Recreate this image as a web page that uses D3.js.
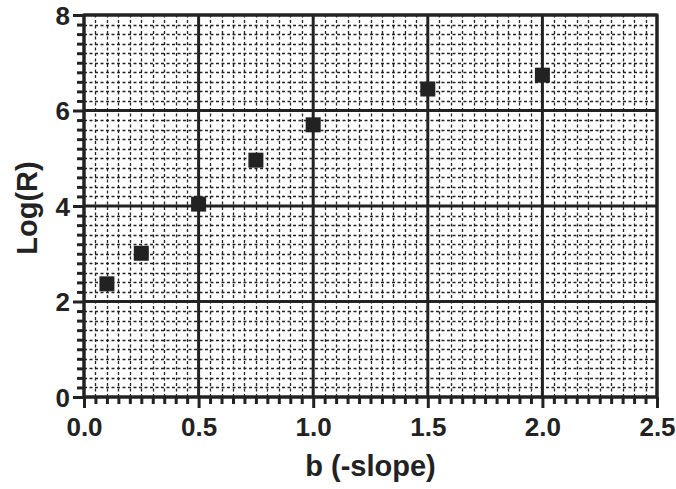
<!DOCTYPE html>
<html>
<head>
<meta charset="utf-8">
<script src="https://cdn.jsdelivr.net/npm/d3@7"></script>
<style>
  body { margin: 0; background: #fff; }
  text { font-family: "Liberation Sans", Arial, sans-serif; font-weight: bold; fill: #222; }
</style>
</head>
<body>
<div id="chart"></div>
<script>
// dati
const slopes = [0.1, 0.25, 0.5, 0.75, 1.0, 1.5, 2.0];
const logR = [2.37, 3.01, 4.04, 4.96, 5.70, 6.45, 6.74];
const xTicks = [0, 0.5, 1.0, 1.5, 2.0, 2.5];
const yTicks = [0, 2, 4, 6, 8];

const width = 676, height = 489;
const margin = { left: 84, right: 19, top: 15, bottom: 92 };

let svg = d3.select("#chart").append("svg")
  .attr("width", width)
  .attr("height", height);

let x = d3.scaleLinear()
  .domain([0, 2.5])
  .range([margin.left, width - margin.right]);

let y = d3.scaleLinear()
  .domain([0, 8])
  .range([height - margin.bottom, margin.top]);

const ink = "#222";

// griglia minore tratteggiata
let xMinor = d3.range(0, 2.5001, 0.05).filter(v => Math.abs(v / 0.5 - Math.round(v / 0.5)) > 1e-6);
let yMinor = d3.range(0, 8.0001, 0.2).filter(v => Math.abs(v / 2 - Math.round(v / 2)) > 1e-6);

let grid = svg.append("g");

grid.selectAll(".vminor")
  .data(xMinor)
  .enter().append("line")
  .attr("x1", d => Math.round(x(d)) + 0.5)
  .attr("x2", d => Math.round(x(d)) + 0.5)
  .attr("y1", y(0))
  .attr("y2", y(8))
  .attr("stroke", ink)
  .attr("stroke-width", 1.3)
  .attr("stroke-dasharray", "3,2.5");

grid.selectAll(".hminor")
  .data(yMinor)
  .enter().append("line")
  .attr("y1", d => Math.round(y(d)) + 0.5)
  .attr("y2", d => Math.round(y(d)) + 0.5)
  .attr("x1", x(0))
  .attr("x2", x(2.5))
  .attr("stroke", ink)
  .attr("stroke-width", 1.3)
  .attr("stroke-dasharray", "3,2.5");

// griglia maggiore
grid.selectAll(".vmajor")
  .data(xTicks)
  .enter().append("line")
  .attr("x1", d => x(d))
  .attr("x2", d => x(d))
  .attr("y1", y(0))
  .attr("y2", y(8))
  .attr("stroke", ink)
  .attr("stroke-width", 3);

grid.selectAll(".hmajor")
  .data(yTicks)
  .enter().append("line")
  .attr("y1", d => y(d))
  .attr("y2", d => y(d))
  .attr("x1", x(0))
  .attr("x2", x(2.5))
  .attr("stroke", ink)
  .attr("stroke-width", 3);

// cornice
svg.append("rect")
  .attr("x", x(0))
  .attr("y", y(8))
  .attr("width", x(2.5) - x(0))
  .attr("height", y(0) - y(8))
  .attr("fill", "none")
  .attr("stroke", ink)
  .attr("stroke-width", 3);

// assi
let xAxisMinor = d3.axisBottom(x).tickValues(xMinor).tickSize(7).tickFormat("");
let xAxis = d3.axisBottom(x).tickValues(xTicks).tickSize(11).tickPadding(10).tickFormat(d3.format(".1f"));
let yAxisMinor = d3.axisLeft(y).tickValues(yMinor).tickSize(7).tickFormat("");
let yAxis = d3.axisLeft(y).tickValues(yTicks).tickSize(11).tickPadding(3).tickFormat(d3.format("d"));

function styleAxis(g, w) {
  g.select(".domain").remove();
  g.selectAll("line").attr("stroke", ink).attr("stroke-width", w);
}

svg.append("g").attr("transform", `translate(0,${y(0)})`).call(xAxisMinor).call(g => styleAxis(g, 3));
svg.append("g").attr("transform", `translate(0,${y(0)})`).call(xAxis).call(g => styleAxis(g, 3))
  .selectAll("text").style("font-size", "26px").attr("fill", ink);

svg.append("g").attr("transform", `translate(${x(0)},0)`).call(yAxisMinor).call(g => styleAxis(g, 3));
svg.append("g").attr("transform", `translate(${x(0)},0)`).call(yAxis).call(g => styleAxis(g, 3))
  .selectAll("text").style("font-size", "26px").attr("fill", ink).attr("dy", "0.36em");

// titoli assi
svg.append("text")
  .attr("x", x(1.25))
  .attr("y", 476)
  .attr("text-anchor", "middle")
  .style("font-size", "29px")
  .text("b (-slope)");

svg.append("text")
  .attr("transform", `translate(37,${y(4) + 2}) rotate(-90)`)
  .attr("text-anchor", "middle")
  .style("font-size", "29px")
  .text("Log(R)");

// punti
const sq = 15;
svg.selectAll(".pt")
  .data(slopes)
  .enter().append("rect")
  .attr("x", (d, i) => x(d) - sq / 2)
  .attr("y", (d, i) => y(logR[i]) - sq / 2)
  .attr("width", sq)
  .attr("height", sq)
  .attr("fill", ink);
</script>
</body>
</html>
